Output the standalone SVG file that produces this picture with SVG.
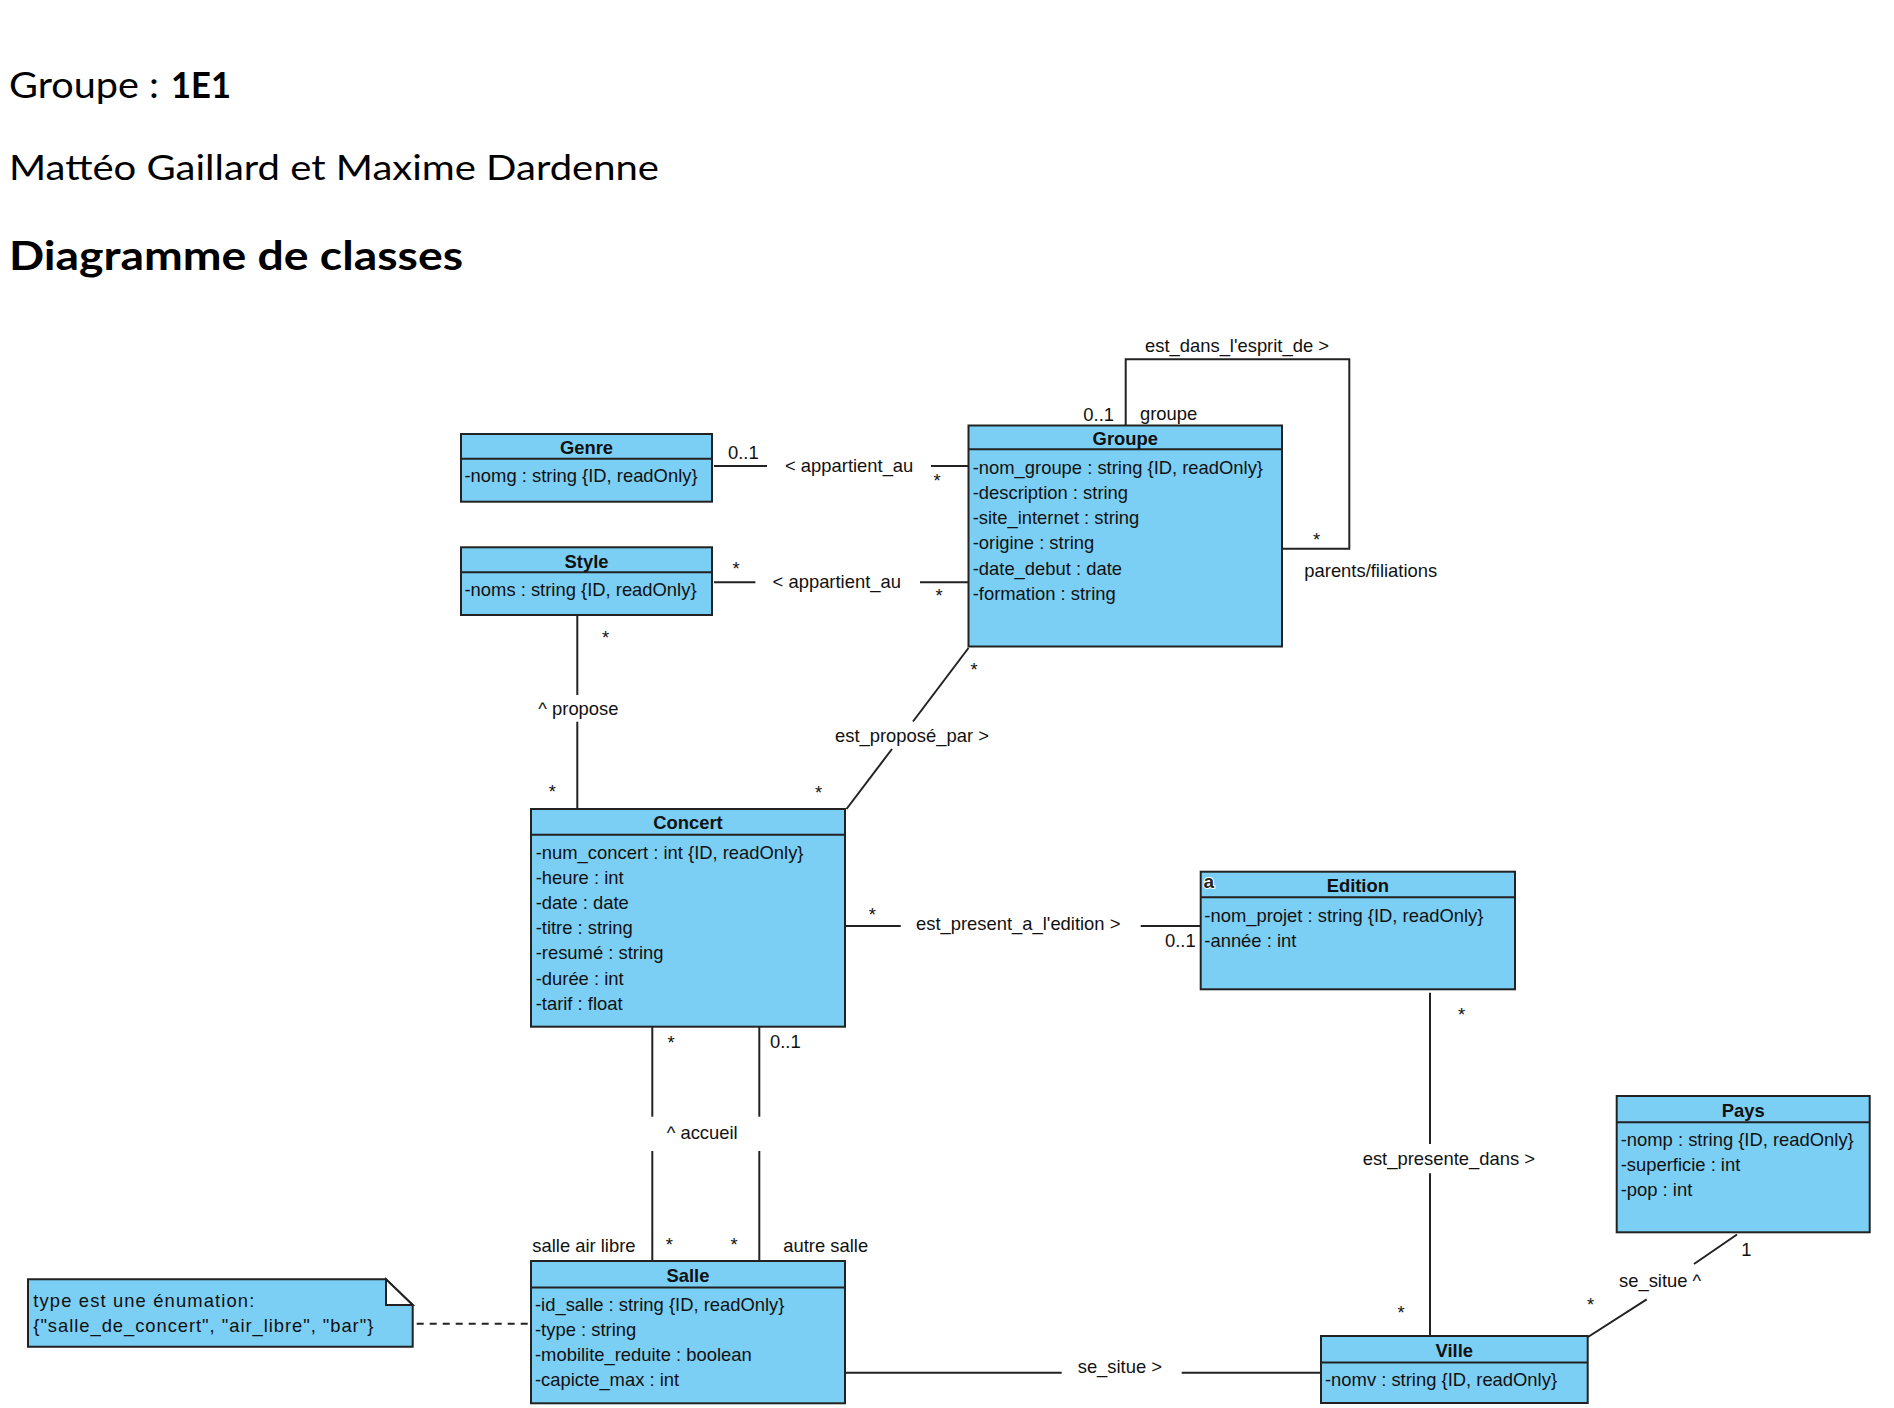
<svg xmlns="http://www.w3.org/2000/svg" width="1894" height="1408" viewBox="0 0 1894 1408">
<style>
.bg{fill:#ffffff}
.box{fill:#7BCFF5;stroke:#222;stroke-width:2}
.sep{stroke:#222;stroke-width:2}
.ln{stroke:#222;stroke-width:2;fill:none}
.dash{stroke:#222;stroke-width:2;fill:none;stroke-dasharray:7 6}
.t{font-family:"Liberation Sans",Arial,sans-serif;font-size:18.4px;fill:#111}
.n{font-family:"Liberation Sans",Arial,sans-serif;font-size:18.4px;font-weight:bold;fill:#111;text-anchor:middle}
.m{text-anchor:middle}
.e{text-anchor:end}
.h{font-family:Lato,"Open Sans","Liberation Sans",sans-serif;fill:#000}
</style>
<rect class="bg" x="0" y="0" width="1894" height="1408"/>

<g id="header">
<text class="h" x="9" y="98" font-size="36" textLength="150" lengthAdjust="spacingAndGlyphs">Groupe :</text>
<text class="h" x="171" y="98" font-size="36" font-weight="bold" textLength="60" lengthAdjust="spacingAndGlyphs">1E1</text>
<text class="h" x="9" y="180" font-size="35" textLength="650" lengthAdjust="spacingAndGlyphs">Mattéo Gaillard et Maxime Dardenne</text>
<text class="h" x="9" y="270" font-size="41" font-weight="bold" textLength="454" lengthAdjust="spacingAndGlyphs">Diagramme de classes</text>
</g>

<g id="connectors">
<!-- Genre - Groupe -->
<line class="ln" x1="714" y1="466" x2="767" y2="466"/>
<line class="ln" x1="931" y1="466" x2="968.5" y2="466"/>
<text class="t" x="728" y="459">0..1</text>
<text class="t" x="785" y="471.5">&lt; appartient_au</text>
<text class="t m" x="937" y="487">*</text>
<!-- Style - Groupe -->
<line class="ln" x1="714" y1="582.3" x2="755.4" y2="582.3"/>
<line class="ln" x1="920" y1="582.3" x2="968.5" y2="582.3"/>
<text class="t m" x="736" y="575">*</text>
<text class="t" x="772.6" y="588">&lt; appartient_au</text>
<text class="t m" x="939" y="602">*</text>
<!-- Style - Concert -->
<line class="ln" x1="577.3" y1="615" x2="577.3" y2="695"/>
<line class="ln" x1="577.3" y1="721.7" x2="577.3" y2="809"/>
<text class="t m" x="605.7" y="644">*</text>
<text class="t" x="538.3" y="715">^ propose</text>
<text class="t m" x="552.3" y="798">*</text>
<!-- Groupe - Concert -->
<line class="ln" x1="846.5" y1="809" x2="892" y2="749"/>
<line class="ln" x1="913" y1="721.5" x2="968.5" y2="648"/>
<text class="t m" x="818.7" y="799">*</text>
<text class="t" x="835" y="741.7">est_proposé_par &gt;</text>
<text class="t m" x="974" y="676">*</text>
<!-- Concert - Edition -->
<line class="ln" x1="845" y1="926" x2="900.7" y2="926"/>
<line class="ln" x1="1140.7" y1="926" x2="1200.7" y2="926"/>
<text class="t m" x="872.3" y="921">*</text>
<text class="t" x="916" y="930">est_present_a_l'edition &gt;</text>
<text class="t" x="1165" y="946.7">0..1</text>
<!-- Concert - Salle -->
<line class="ln" x1="652.3" y1="1026.7" x2="652.3" y2="1116.7"/>
<line class="ln" x1="652.3" y1="1151" x2="652.3" y2="1261"/>
<line class="ln" x1="759.3" y1="1026.7" x2="759.3" y2="1116.7"/>
<line class="ln" x1="759.3" y1="1151" x2="759.3" y2="1261"/>
<text class="t m" x="671" y="1049">*</text>
<text class="t" x="770" y="1048.3">0..1</text>
<text class="t" x="666.7" y="1139.3">^ accueil</text>
<text class="t m" x="669.3" y="1250.5">*</text>
<text class="t m" x="734" y="1250.5">*</text>
<text class="t" x="532.3" y="1252">salle air libre</text>
<text class="t" x="783.3" y="1251.7">autre salle</text>
<!-- Groupe self -->
<path class="ln" d="M1125.7 425.5 V359.3 H1349.3 V548.7 H1282"/>
<text class="t" x="1145" y="352.3">est_dans_l'esprit_de &gt;</text>
<text class="t e" x="1114" y="420.7">0..1</text>
<text class="t" x="1140" y="419.5">groupe</text>
<text class="t m" x="1316.7" y="545.5">*</text>
<text class="t" x="1304.3" y="576.7">parents/filiations</text>
<!-- Edition - Ville -->
<line class="ln" x1="1430" y1="992.7" x2="1430" y2="1144"/>
<line class="ln" x1="1430" y1="1173.3" x2="1430" y2="1336"/>
<text class="t m" x="1461.7" y="1021">*</text>
<text class="t" x="1362.7" y="1165">est_presente_dans &gt;</text>
<text class="t m" x="1401" y="1318.7">*</text>
<!-- Salle - Ville -->
<line class="ln" x1="845" y1="1372.7" x2="1061.7" y2="1372.7"/>
<line class="ln" x1="1181.7" y1="1372.7" x2="1321" y2="1372.7"/>
<text class="t" x="1077.7" y="1373">se_situe &gt;</text>
<!-- Ville - Pays -->
<line class="ln" x1="1588" y1="1337" x2="1646.7" y2="1299.3"/>
<line class="ln" x1="1694" y1="1264" x2="1737" y2="1234.5"/>
<text class="t m" x="1590.7" y="1311">*</text>
<text class="t" x="1619" y="1287.3">se_situe ^</text>
<text class="t m" x="1746.3" y="1255.7">1</text>
<!-- Note - Salle -->
<line class="dash" x1="416.7" y1="1323.7" x2="531" y2="1323.7"/>
</g>

<g id="note">
<path class="box" d="M28 1279.3 H386 L412.7 1305 V1346.7 H28 Z"/>
<path fill="#ffffff" stroke="#222" stroke-width="2" d="M386 1279.3 V1305 H412.7 Z"/>
<text class="t" x="33.3" y="1306.7" textLength="221" lengthAdjust="spacing">type est une énumation:</text>
<text class="t" x="33.3" y="1331.7" textLength="340" lengthAdjust="spacing">{"salle_de_concert", "air_libre", "bar"}</text>
</g>

<g id="Genre">
<rect class="box" x="461" y="434" width="251" height="67.7"/>
<line class="sep" x1="461" y1="458.7" x2="712" y2="458.7"/>
<text class="n" x="586.5" y="454">Genre</text>
<text class="t" x="464.5" y="482">-nomg : string {ID, readOnly}</text>
</g>

<g id="Style">
<rect class="box" x="461" y="547.3" width="251" height="67.7"/>
<line class="sep" x1="461" y1="572.3" x2="712" y2="572.3"/>
<text class="n" x="586.5" y="567.7">Style</text>
<text class="t" x="464.5" y="595.7">-noms : string {ID, readOnly}</text>
</g>

<g id="Groupe">
<rect class="box" x="968.5" y="425.5" width="313.5" height="221"/>
<line class="sep" x1="968.5" y1="449.3" x2="1282" y2="449.3"/>
<text class="n" x="1125.3" y="445">Groupe</text>
<text class="t" x="972.7" y="473.5">-nom_groupe : string {ID, readOnly}</text>
<text class="t" x="972.7" y="498.8">-description : string</text>
<text class="t" x="972.7" y="524.1">-site_internet : string</text>
<text class="t" x="972.7" y="549.4">-origine : string</text>
<text class="t" x="972.7" y="574.7">-date_debut : date</text>
<text class="t" x="972.7" y="600">-formation : string</text>
</g>

<g id="Concert">
<rect class="box" x="531" y="809" width="314" height="217.7"/>
<line class="sep" x1="531" y1="834.7" x2="845" y2="834.7"/>
<text class="n" x="688" y="829.3">Concert</text>
<text class="t" x="535.7" y="858.5">-num_concert : int {ID, readOnly}</text>
<text class="t" x="535.7" y="883.7">-heure : int</text>
<text class="t" x="535.7" y="908.9">-date : date</text>
<text class="t" x="535.7" y="934.1">-titre : string</text>
<text class="t" x="535.7" y="959.3">-resumé : string</text>
<text class="t" x="535.7" y="984.5">-durée : int</text>
<text class="t" x="535.7" y="1009.7">-tarif : float</text>
</g>

<g id="Edition">
<rect class="box" x="1200.7" y="871.7" width="314.3" height="117.6"/>
<line class="sep" x1="1200.7" y1="897.3" x2="1515" y2="897.3"/>
<text x="1203.5" y="888" font-family="Liberation Sans,Arial,sans-serif" font-size="19" font-weight="bold" fill="#222" stroke="#ffffff" stroke-width="2" paint-order="stroke">a</text>
<text class="n" x="1357.8" y="891.7">Edition</text>
<text class="t" x="1204.3" y="921.7">-nom_projet : string {ID, readOnly}</text>
<text class="t" x="1204.3" y="947.3">-année : int</text>
</g>

<g id="Pays">
<rect class="box" x="1616.7" y="1096" width="253" height="136.3"/>
<line class="sep" x1="1616.7" y1="1122.3" x2="1869.7" y2="1122.3"/>
<text class="n" x="1743.2" y="1116.7">Pays</text>
<text class="t" x="1620.7" y="1145.7">-nomp : string {ID, readOnly}</text>
<text class="t" x="1620.7" y="1171">-superficie : int</text>
<text class="t" x="1620.7" y="1196">-pop : int</text>
</g>

<g id="Salle">
<rect class="box" x="531" y="1261" width="314" height="142.3"/>
<line class="sep" x1="531" y1="1287.5" x2="845" y2="1287.5"/>
<text class="n" x="688" y="1281.7">Salle</text>
<text class="t" x="535" y="1311">-id_salle : string {ID, readOnly}</text>
<text class="t" x="535" y="1336">-type : string</text>
<text class="t" x="535" y="1360.5">-mobilite_reduite : boolean</text>
<text class="t" x="535" y="1386">-capicte_max : int</text>
</g>

<g id="Ville">
<rect class="box" x="1321" y="1336" width="266.7" height="67"/>
<line class="sep" x1="1321" y1="1362.5" x2="1587.7" y2="1362.5"/>
<text class="n" x="1454.3" y="1356.7">Ville</text>
<text class="t" x="1325" y="1385.5">-nomv : string {ID, readOnly}</text>
</g>
</svg>
